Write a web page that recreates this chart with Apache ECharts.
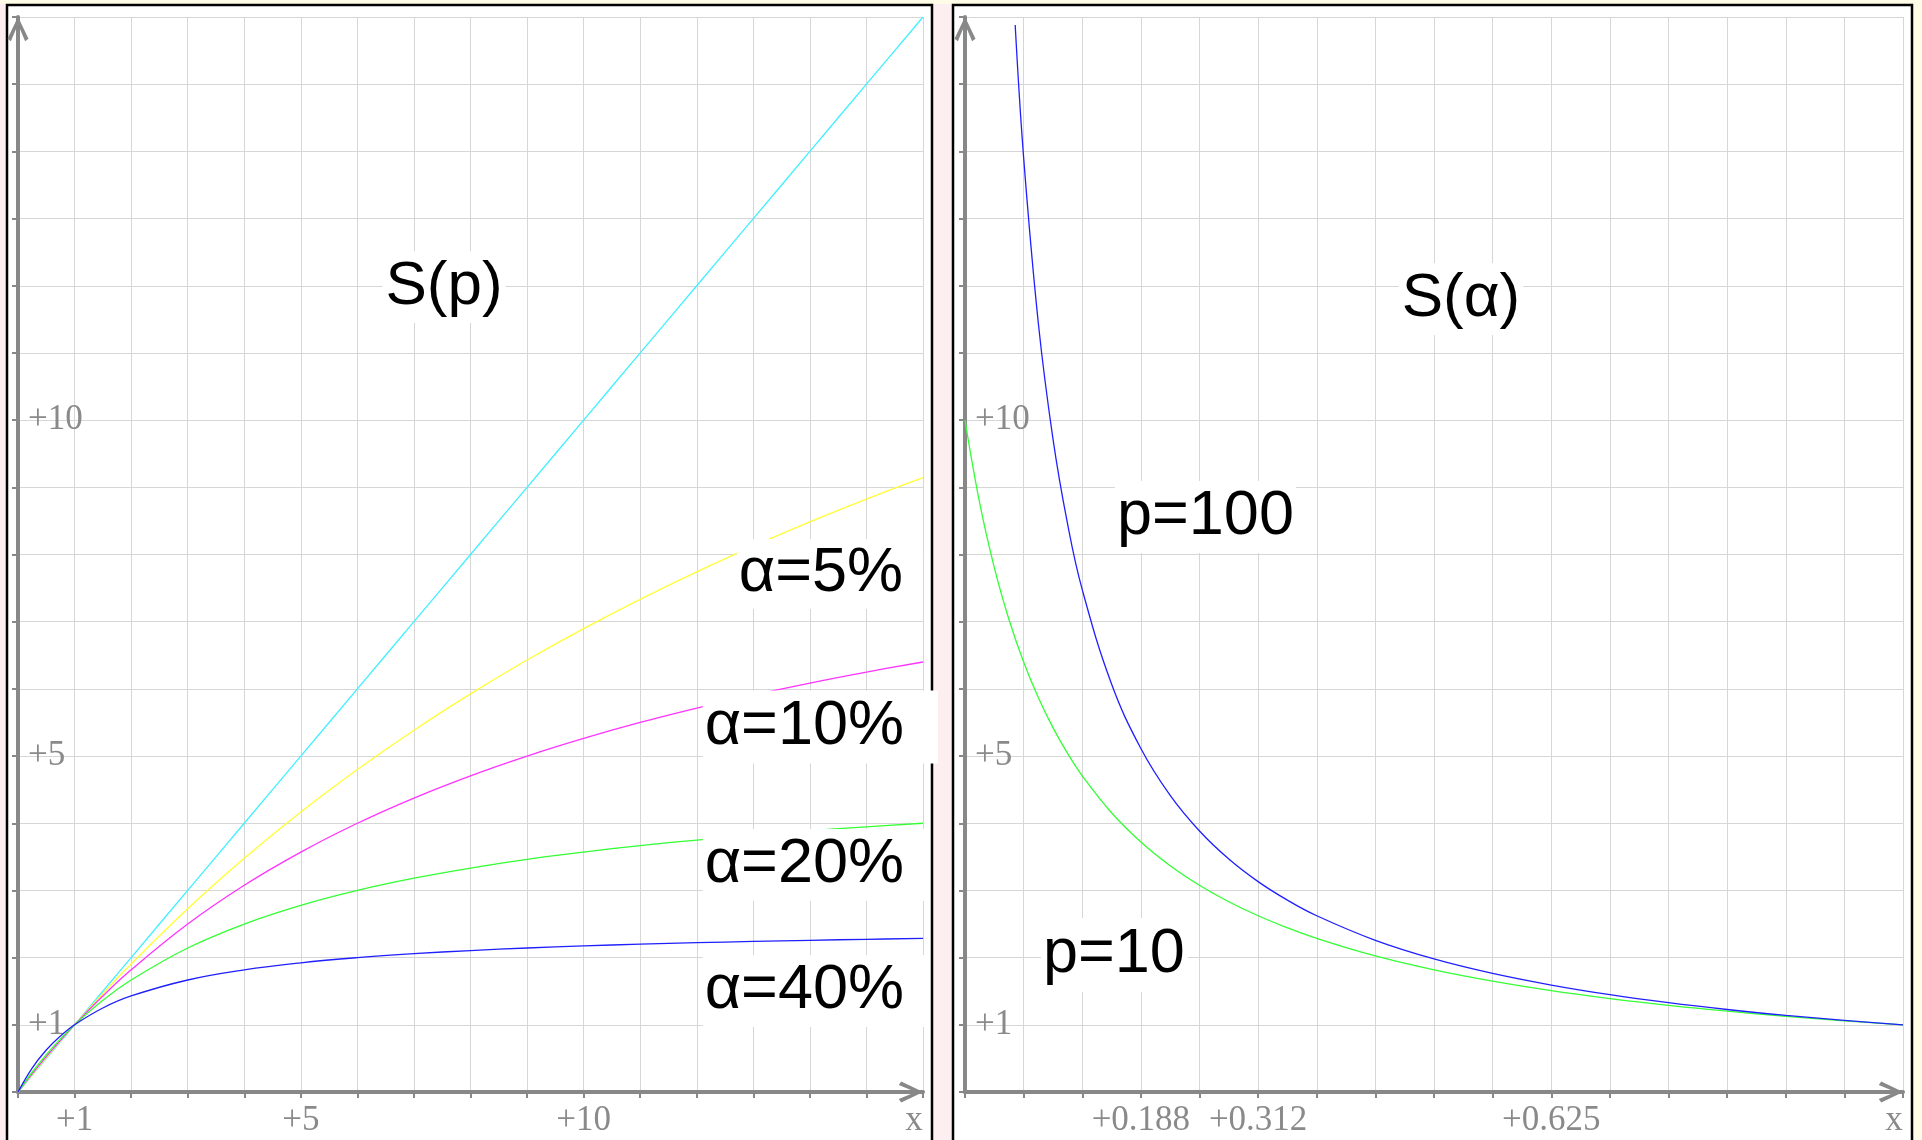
<!DOCTYPE html>
<html>
<head>
<meta charset="utf-8">
<title>S(p) / S(α)</title>
<script src="https://cdn.jsdelivr.net/npm/echarts@6/dist/echarts.min.js"></script>
<style>
  html, body { margin: 0; padding: 0; }
  #chart { width: 1922px; height: 1140px; }
</style>
</head>
<body>
<div id="chart"></div>
<script>
// left panel: speedup S against p, one curve per α
var pValues = [0, 0.25, 0.5, 0.75, 1, 1.5, 2, 3, 4, 5, 6, 7, 8, 9, 10, 11, 12, 13, 14, 15, 16];
var sAlpha0 = [0, 0.25, 0.5, 0.75, 1, 1.5, 2, 3, 4, 5, 6, 7, 8, 9, 10, 11, 12, 13, 14, 15, 16];
var sAlpha5 = [0, 0.26, 0.513, 0.76, 1, 1.463, 1.905, 2.727, 3.478, 4.167, 4.8, 5.385, 5.926, 6.429, 6.897, 7.333, 7.742, 8.125, 8.485, 8.824, 9.143];
var sAlpha10 = [0, 0.27, 0.526, 0.769, 1, 1.429, 1.818, 2.5, 3.077, 3.571, 4, 4.375, 4.706, 5, 5.263, 5.5, 5.714, 5.909, 6.087, 6.25, 6.4];
var sAlpha20 = [0, 0.294, 0.556, 0.79, 1, 1.364, 1.667, 2.143, 2.5, 2.778, 3, 3.182, 3.333, 3.462, 3.571, 3.667, 3.75, 3.824, 3.889, 3.947, 4];
var sAlpha40 = [0, 0.357, 0.625, 0.833, 1, 1.25, 1.429, 1.667, 1.818, 1.923, 2, 2.059, 2.105, 2.143, 2.174, 2.2, 2.222, 2.241, 2.258, 2.273, 2.286];

// right panel: speedup S against α
var alphaP10 = [0, 0.015625, 0.03125, 0.046875, 0.0625, 0.078125, 0.09375, 0.109375, 0.125, 0.15625, 0.1875, 0.21875, 0.25, 0.28125, 0.3125, 0.34375, 0.375, 0.4375, 0.5, 0.5625, 0.625, 0.6875, 0.75, 0.8125, 0.875, 0.9375, 1];
var sP10 = [10, 8.767, 7.805, 7.033, 6.4, 5.872, 5.424, 5.039, 4.706, 4.156, 3.721, 3.368, 3.077, 2.832, 2.623, 2.443, 2.286, 2.025, 1.818, 1.65, 1.509, 1.391, 1.29, 1.203, 1.127, 1.06, 1];
var alphaP100 = [0.0535, 0.0625, 0.078125, 0.09375, 0.109375, 0.125, 0.15625, 0.1875, 0.21875, 0.25, 0.28125, 0.3125, 0.34375, 0.375, 0.4375, 0.5, 0.5625, 0.625, 0.6875, 0.75, 0.8125, 0.875, 0.9375, 1];
var sP100 = [15.88, 13.91, 11.45, 9.726, 8.454, 7.477, 6.072, 5.112, 4.414, 3.884, 3.467, 3.131, 2.855, 2.623, 2.257, 1.98, 1.764, 1.591, 1.448, 1.329, 1.228, 1.141, 1.066, 1];

var leftXLabels = { 1: '+1', 5: '+5', 10: '+10', 16: '{x|x}' };
var rightXLabels = { 0.1875: '+0.188', 0.3125: '+0.312', 0.625: '+0.625', 1: '{x|x}' };
var yLabels = { 1: '+1', 5: '+5', 10: '+10' };

function pairs(xs, ys) {
  return xs.map(function (x, i) { return [x, ys[i]]; });
}

var axisGray = '#888888';
var labelFont = {
  fontFamily: 'Liberation Serif', fontSize: 35, color: '#8a8a8a',
  rich: { x: { fontFamily: 'Liberation Serif', fontSize: 35, color: '#8a8a8a', padding: [0, 18, 0, 0] } }
};
// open chevron used as arrow head
var chevron = 'path://M10.5,0 L21,22 L17.6,24.5 L10.5,7.5 L3.4,24.5 L0,22 Z';

function baseAxis(gridIndex, max, interval, labels, isY) {
  return {
    type: 'value',
    gridIndex: gridIndex,
    min: 0,
    max: max,
    interval: interval,
    axisLine: {
      show: true,
      symbol: ['none', chevron],
      symbolSize: [21, 25],
      symbolOffset: [0, -12],
      lineStyle: { color: axisGray, width: 4 }
    },
    axisTick: { show: true, length: 6, lineStyle: { color: axisGray, width: 2 } },
    splitLine: { show: true, lineStyle: { color: '#d6d6d6', width: 1 } },
    axisLabel: Object.assign({
      show: true,
      inside: isY,
      margin: isY ? 10 : 11,
      showMinLabel: true,
      showMaxLabel: true,
      hideOverlap: false,
      formatter: function (v) { return labels[v] || ''; }
    }, labelFont)
  };
}

// x is the edge of the text itself; the white box grows outward by the padding
function textBox(text, x, y, align, size, pad) {
  var bx = x;
  if (align === 'right') bx = x + pad[1];
  if (align === 'left') bx = x - pad[3];
  return {
    type: 'text',
    z: 100,
    style: {
      text: text, x: bx, y: y, align: align, verticalAlign: 'middle',
      fontFamily: 'Liberation Sans', fontSize: size, fill: '#000',
      backgroundColor: '#fff', padding: pad
    }
  };
}

function line(name, xi, data, color) {
  return {
    name: name, type: 'line', xAxisIndex: xi, yAxisIndex: xi,
    data: data, showSymbol: false, smooth: 0.4,
    clip: true, animation: false,
    lineStyle: { color: color, width: 1.3 }
  };
}

var chart = echarts.init(document.getElementById('chart'));
chart.setOption({
  backgroundColor: '#fdeef2',
  animation: false,
  grid: [
    { left: 18, right: 999, top: 17, bottom: 48 },
    { left: 965, right: 19, top: 17, bottom: 48 }
  ],
  xAxis: [
    baseAxis(0, 16, 1, leftXLabels, false),
    baseAxis(1, 1, 0.0625, rightXLabels, false)
  ],
  yAxis: [
    baseAxis(0, 16, 1, yLabels, true),
    baseAxis(1, 16, 1, yLabels, true)
  ],
  graphic: [
    { type: 'rect', z: -10, shape: { x: 0, y: 0, width: 1922, height: 4 }, style: { fill: '#fefce6' } },
    { type: 'rect', z: -10, shape: { x: 1913, y: 0, width: 9, height: 1140 }, style: { fill: '#fefce6' } },
    { type: 'rect', z: -9, shape: { x: 7, y: 5, width: 925, height: 1150 }, style: { fill: '#fff', stroke: '#000', lineWidth: 2.5 } },
    { type: 'rect', z: -9, shape: { x: 953, y: 5, width: 959, height: 1150 }, style: { fill: '#fff', stroke: '#000', lineWidth: 2.5 } },
    textBox('S(p)', 444, 287, 'center', 62, [5, 3, 5, 3]),
    textBox('S(α)', 1461, 299, 'center', 62, [5, 3, 5, 3]),
    textBox('α=5%', 903, 574, 'right', 63, [4, 20, 3, 2]),
    textBox('α=10%', 904, 727, 'right', 63, [6, 34, 4, 2]),
    textBox('α=20%', 904, 865, 'right', 63, [5, 20, 4, 2]),
    textBox('α=40%', 904, 991, 'right', 63, [5, 20, 4, 2]),
    textBox('p=100', 1117, 517, 'left', 63, [4, 2, 5, 2]),
    textBox('p=10', 1043, 955, 'left', 63, [7, 3, 4, 2])
  ],
  series: [
    line('α=0', 0, pairs(pValues, sAlpha0), '#3ff0ff'),
    line('α=5%', 0, pairs(pValues, sAlpha5), '#ffff33'),
    line('α=10%', 0, pairs(pValues, sAlpha10), '#ff33ff'),
    line('α=20%', 0, pairs(pValues, sAlpha20), '#33ff33'),
    line('α=40%', 0, pairs(pValues, sAlpha40), '#2020ff'),
    line('p=10', 1, pairs(alphaP10, sP10), '#33ff33'),
    line('p=100', 1, pairs(alphaP100, sP100), '#2020ff')
  ]
});
</script>
</body>
</html>
